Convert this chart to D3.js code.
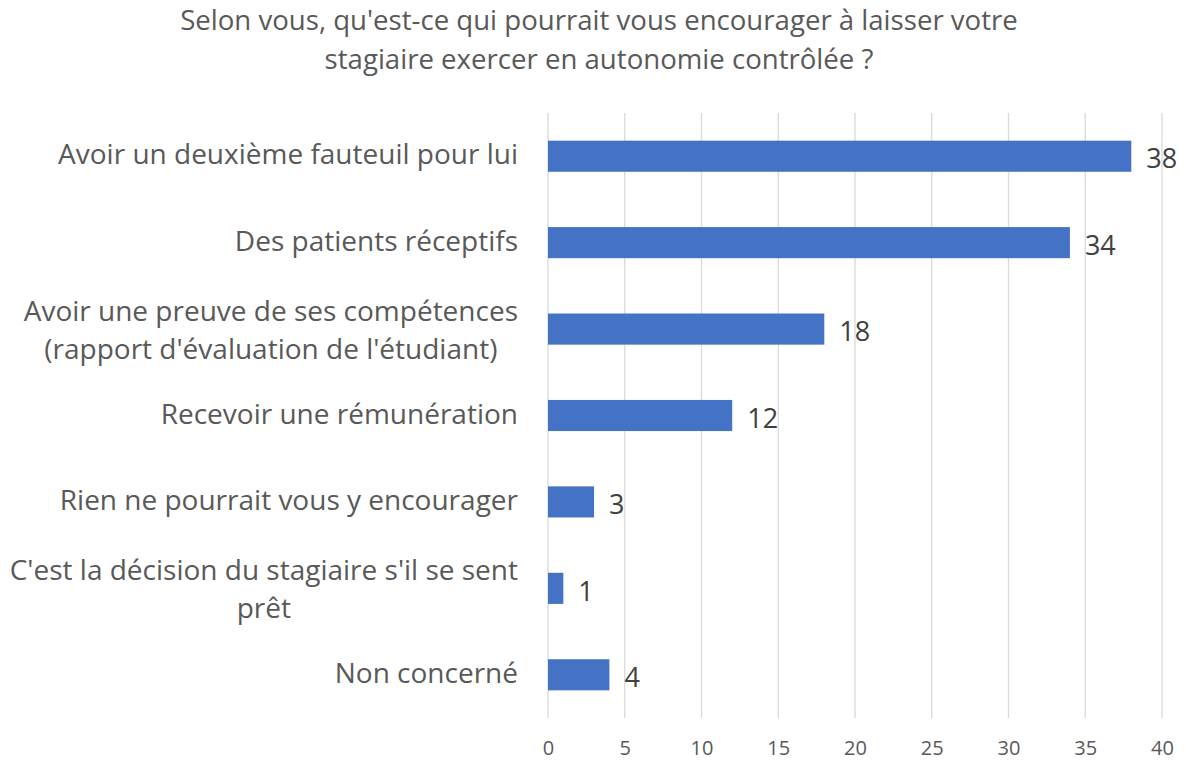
<!DOCTYPE html>
<html>
<head>
<meta charset="utf-8">
<script src="https://cdn.jsdelivr.net/npm/d3@7"></script>
<style>
    body { margin: 0; background: #fff; }
    text { font-family: "Open Sans", sans-serif; }
</style>
</head>
<body>
<div id="chart"></div>
<script>
// data
var categories = [
    "Avoir un deuxième fauteuil pour lui",
    "Des patients réceptifs",
    "Avoir une preuve de ses compétences|(rapport d'évaluation de l'étudiant)",
    "Recevoir une rémunération",
    "Rien ne pourrait vous y encourager",
    "C'est la décision du stagiaire s'il se sent|prêt",
    "Non concerné"
];
var values = [38, 34, 18, 12, 3, 1, 4];
var tickValues = [0, 5, 10, 15, 20, 25, 30, 35, 40];
var titleLines = [
    "Selon vous, qu'est-ce qui pourrait vous encourager à laisser votre",
    "stagiaire exercer en autonomie contrôlée ?"
];

var width = 1186, height = 760;
var margin = { top: 113, right: 24, bottom: 42, left: 548 };

var svg = d3.select('#chart')
    .append('svg')
    .attr('width', width)
    .attr('height', height);

var xScale = d3.scaleLinear()
    .domain([0, 40])
    .range([margin.left, width - margin.right]);

var yScale = d3.scaleBand()
    .domain(categories)
    .range([margin.top, height - margin.bottom])
    .paddingInner(0.64)
    .paddingOuter(0.32);

// title
svg.append('g')
    .selectAll('text')
    .data(titleLines)
    .enter()
    .append('text')
    .attr('x', 599)
    .attr('y', (d, i) => 30 + i * 39)
    .attr('text-anchor', 'middle')
    .style('font-size', '27.6px')
    .style('fill', '#595959')
    .text(d => d);

// gridlines
svg.append('g')
    .selectAll('line')
    .data(tickValues)
    .enter()
    .append('line')
    .attr('x1', d => xScale(d))
    .attr('x2', d => xScale(d))
    .attr('y1', margin.top)
    .attr('y2', height - margin.bottom)
    .style('stroke', '#d9d9d9')
    .style('stroke-width', 1.3);

// x axis labels
var xAxis = d3.axisBottom(xScale)
    .tickValues(tickValues)
    .tickSize(0)
    .tickPadding(0);

var gx = svg.append('g')
    .attr('transform', `translate(0, ${height - margin.bottom})`)
    .call(xAxis);
gx.select('.domain').remove();
gx.selectAll('text')
    .attr('y', 37)
    .attr('dy', 0)
    .style('font-family', '"Open Sans", sans-serif')
    .style('font-size', '20px')
    .style('fill', '#595959');

// bars
svg.selectAll('.bar').data(values)
    .enter()
    .append('rect')
    .attr('class', 'bar')
    .attr('x', xScale(0))
    .attr('y', (d, i) => yScale(categories[i]))
    .attr('width', d => xScale(d) - xScale(0))
    .attr('height', yScale.bandwidth())
    .style('fill', '#4472c4');

// value labels
svg.selectAll('.val').data(values)
    .enter()
    .append('text')
    .attr('class', 'val')
    .attr('x', d => xScale(d) + 15)
    .attr('y', (d, i) => yScale(categories[i]) + yScale.bandwidth() / 2)
    .attr('dy', '0.45em')
    .style('font-size', '27px')
    .style('fill', '#404040')
    .text(d => d);

// category labels, wrapped lines centred in a right-aligned block
var labelRight = 518;
var lineHeight = 38;
categories.forEach(function (c) {
    var lines = c.split('|');
    var cy = yScale(c) + yScale.bandwidth() / 2;
    var g = svg.append('g');
    var texts = lines.map(function (l, i) {
        return g.append('text')
            .attr('y', cy + (i - (lines.length - 1) / 2) * lineHeight)
            .attr('dy', lines.length > 1 ? '0.38em' : '0.29em')
            .style('font-size', '28px')
            .style('fill', '#595959')
            .text(l);
    });
    var maxW = d3.max(texts, t => t.node().getComputedTextLength());
    texts.forEach(function (t) {
        t.attr('x', labelRight - maxW / 2).attr('text-anchor', 'middle');
    });
});
</script>
</body>
</html>
